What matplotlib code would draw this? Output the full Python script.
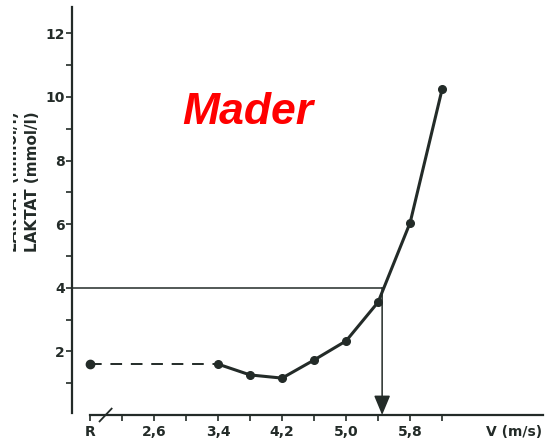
import matplotlib.pyplot as plt
from matplotlib.patches import Rectangle

# Laktat-Leistungskurve (Mader, 4 mmol/l Schwelle)
geschw = [3.4, 3.8, 4.2, 4.6, 5.0, 5.4, 5.8, 6.2]
laktat = [1.6, 1.26, 1.16, 1.73, 2.33, 3.55, 6.05, 10.25]
ruhe_x = 1.8
ruhe_laktat = 1.6
schwelle = 4.0
v_schwelle = 5.45

xticks = [1.8, 2.2, 2.6, 3.0, 3.4, 3.8, 4.2, 4.6, 5.0, 5.4, 5.8, 6.2]
xlabels = ['R', '', '2,6', '', '3,4', '', '4,2', '', '5,0', '', '5,8', '']
yticks = [2, 4, 6, 8, 10, 12]
yminor = [1, 3, 5, 7, 9, 11]

farbe = '#232b28'
W, H = 545, 443

fig = plt.figure(figsize=(5.45, 4.43), dpi=100)
ax = fig.add_axes([72 / W, 28 / H, (543 - 72) / W, (415 - 7) / H])
ax.set_xlim(1.575, 7.46)
ax.set_ylim(0, 12.83)

for s in ['top', 'right']:
    ax.spines[s].set_visible(False)
ax.spines['left'].set_bounds(0.06, 12.83)
ax.spines['bottom'].set_bounds(1.8, 7.46)
for s in ['left', 'bottom']:
    ax.spines[s].set_color(farbe)
    ax.spines[s].set_linewidth(1.6)

ax.set_yticks(yticks)
ax.set_yticks(yminor, minor=True)
ax.set_yticklabels([str(v) for v in yticks], fontweight='bold', fontsize=10, color=farbe)
ax.set_xticks(xticks)
ax.set_xticklabels(xlabels, fontweight='bold', fontsize=10, color=farbe)
ax.tick_params(axis='y', which='both', direction='out', length=4.5, width=1.2, color=farbe, pad=0.5)
ax.tick_params(axis='x', direction='out', length=4.5, width=1.2, color=farbe, pad=3)

# Bruchzeichen auf der x-Achse
ax.plot([1.92, 2.07], [-0.2, 0.2], color=farbe, lw=1.3, clip_on=False)

# Ruhewert gestrichelt
ax.plot([ruhe_x, geschw[0]], [ruhe_laktat, laktat[0]], color=farbe, lw=1.4,
        dashes=(6, 4.5))
ax.plot(ruhe_x, ruhe_laktat, 'o', color=farbe, ms=6)

# Messkurve
ax.plot(geschw, laktat, '-o', color=farbe, lw=2.2, ms=5.5)

# 4 mmol/l Schwelle
ax.plot([1.575, v_schwelle], [schwelle, schwelle], color=farbe, lw=1.1)
ax.annotate('', xy=(v_schwelle, 0), xytext=(v_schwelle, schwelle),
            arrowprops=dict(arrowstyle='-|>,head_length=1.2,head_width=0.5',
                            color=farbe, lw=1.1, shrinkA=0, shrinkB=0))

ax.text(248 / W, 1 - 113 / H, 'Mader', transform=fig.transFigure, color='#ff0000',
        fontsize=32, fontweight='bold', fontstyle='italic', family='Liberation Sans',
        ha='center', va='center')

fig.text(542 / W, 1 - 432 / H, 'V (m/s)', ha='right', va='center',
         fontweight='bold', fontsize=10, color=farbe)
fig.text(33 / W, 1 - 182 / H, 'LAKTAT (mmol/l)', rotation=90, ha='center', va='center',
         fontweight='bold', fontsize=11, color=farbe)
# abgeschnittene Zeile vom Scan
fig.text(13 / W, 1 - 182 / H, 'LAKTAT (mmol/l)', rotation=90, ha='center', va='center',
         fontweight='bold', fontsize=11, color=farbe)
fig.patches.append(Rectangle((0, 0), 13 / W, 1, transform=fig.transFigure,
                             facecolor='white', edgecolor='none', zorder=5))

fig.savefig('out.png', dpi=100)
